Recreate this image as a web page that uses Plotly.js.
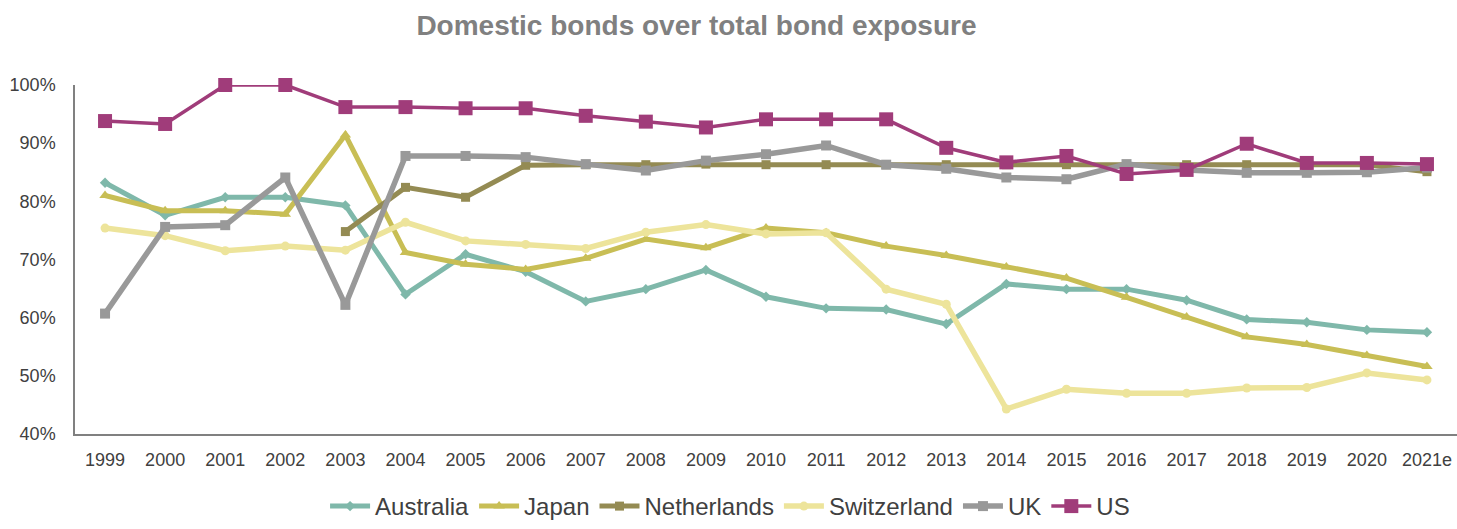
<!DOCTYPE html>
<html>
<head>
<meta charset="utf-8">
<script src="https://cdn.plot.ly/plotly-3.0.1.min.js"></script>
<style>html,body{margin:0;padding:0;background:#fff;}#chart{width:1457px;height:529px;}</style>
</head>
<body>
<div id="chart"></div>
<script>
const years = ["1999","2000","2001","2002","2003","2004","2005","2006","2007","2008","2009","2010","2011","2012","2013","2014","2015","2016","2017","2018","2019","2020","2021e"];
const australia = [83.2,77.6,80.7,80.7,79.3,64.0,70.9,67.9,62.8,64.9,68.2,63.6,61.6,61.4,58.9,65.8,64.9,64.9,63.0,59.7,59.2,57.9,57.5];
const japan = [81.0,78.4,78.4,77.8,91.4,71.2,69.2,68.3,70.2,73.5,72.0,75.4,74.6,72.3,70.7,68.7,66.8,63.5,60.1,56.7,55.4,53.5,51.6];
const netherlands = [null,null,null,null,74.8,82.4,80.7,86.2,86.3,86.3,86.4,86.3,86.3,86.3,86.3,86.3,86.3,86.3,86.3,86.3,86.3,86.3,85.1];
const switzerland = [75.4,74.1,71.5,72.3,71.6,76.4,73.2,72.6,71.9,74.7,76.0,74.4,74.6,64.9,62.3,44.3,47.7,47.0,47.0,47.9,48.0,50.5,49.3];
const uk = [60.7,75.6,75.9,84.1,62.2,87.8,87.8,87.6,86.4,85.3,87.0,88.1,89.6,86.3,85.6,84.1,83.8,86.4,85.4,84.9,84.9,85.0,85.8];
const us = [93.8,93.3,100,100,96.2,96.2,96.0,96.0,94.7,93.7,92.7,94.1,94.1,94.1,89.2,86.7,87.8,84.7,85.4,89.9,86.6,86.6,86.4];

function tr(name, y, color, width, symbol, msize) {
  return {
    type: 'scatter', mode: 'lines+markers', name: name, x: years, y: y,
    line: {color: color, width: width},
    marker: {color: color, symbol: symbol, size: msize},
    connectgaps: false, cliponaxis: false,
    hovertemplate: '%{x}: %{y:.1f}%<extra>' + name + '</extra>'
  };
}

const data = [
  tr('Australia', australia, '#7fb8aa', 5, 'diamond', 8),
  tr('Japan', japan, '#c8be55', 5, 'triangle-up', 10),
  tr('Netherlands', netherlands, '#948b53', 5, 'square', 9),
  tr('Switzerland', switzerland, '#ede49b', 5.5, 'circle', 9),
  tr('UK', uk, '#999999', 5.5, 'square', 10),
  tr('US', us, '#a03c7a', 3.5, 'square', 14)
];

const layout = {
  width: 1457, height: 529,
  margin: {l: 75, r: 0, t: 85, b: 95},
  paper_bgcolor: '#ffffff', plot_bgcolor: '#ffffff',
  font: {family: 'Liberation Sans, Arial, sans-serif', color: '#404040'},
  title: {
    text: '<b>Domestic bonds over total bond exposure</b>',
    font: {size: 28, color: '#808080', family: 'Liberation Sans, Arial, sans-serif'},
    x: 0.478, xanchor: 'center', xref: 'container', y: 0.953, yanchor: 'middle', yref: 'container'
  },
  xaxis: {
    type: 'category', range: [-0.5, 22.5],
    showline: true, linecolor: '#808080', linewidth: 1.5,
    showgrid: false, zeroline: false, ticks: '', ticklabelstandoff: 9,
    tickfont: {size: 18, color: '#404040'}
  },
  yaxis: {
    range: [40, 100], dtick: 10, ticksuffix: '%',
    showline: true, linecolor: '#808080', linewidth: 1.5,
    showgrid: false, zeroline: false, ticks: '', ticklabelstandoff: 14,
    tickfont: {size: 18, color: '#404040'}
  },
  showlegend: true,
  legend: {
    orientation: 'h', x: 0.474, xanchor: 'center', y: -0.022, yref: 'container', yanchor: 'bottom',
    font: {size: 24, color: '#404040'}, itemwidth: 40, tracegroupgap: 0
  }
};

Plotly.newPlot('chart', data, layout, {displayModeBar: false});
</script>
</body>
</html>
